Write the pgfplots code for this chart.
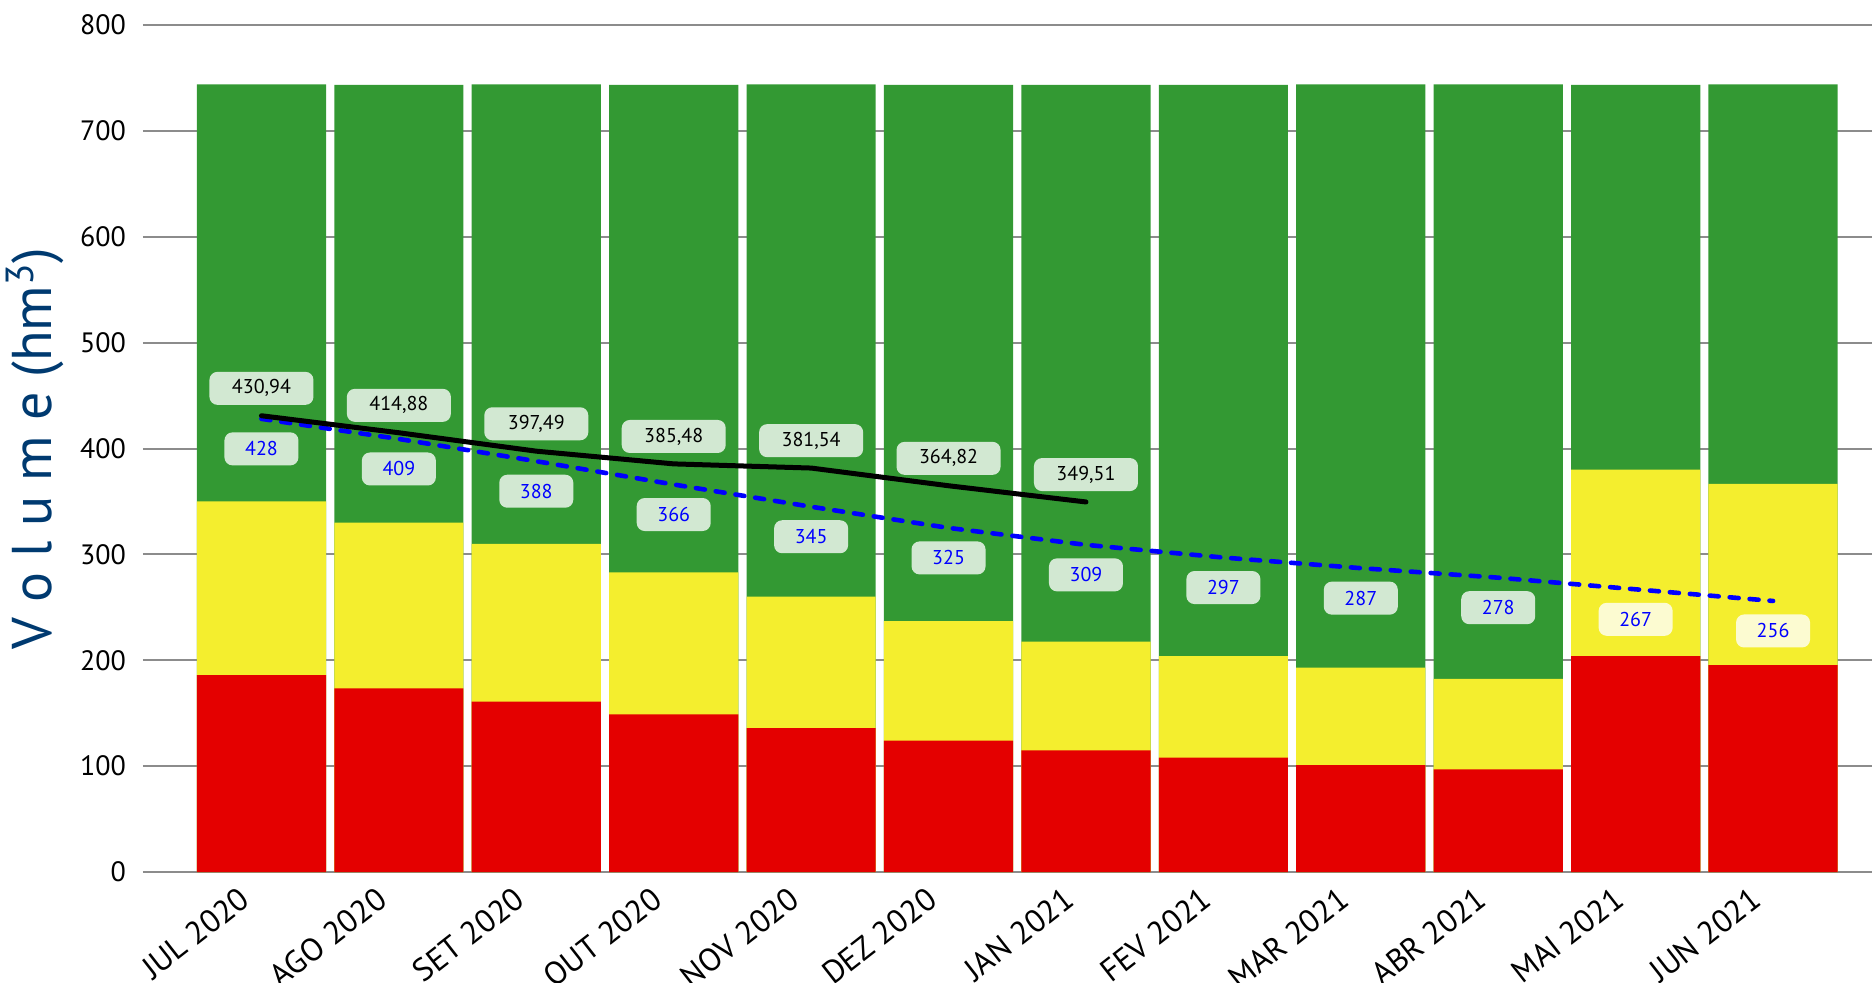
\documentclass[border=0pt]{standalone}
\usepackage{pgfplots}
\pgfplotsset{compat=1.18}
\usepackage{pgfplotstable}
\usepackage{fontspec}
\setmainfont{PT Sans}
\definecolor{cgreen}{RGB}{51,153,51}
\definecolor{cyellow}{RGB}{244,238,46}
\definecolor{cred}{RGB}{228,0,0}
\definecolor{cdblue}{RGB}{0,58,112}
\definecolor{cgrid}{RGB}{140,140,140}

% red = top of red segment, yel = top of yellow segment, tot = top of green segment
\pgfplotstableread{
x red yel tot
0 186 350 744
1 173.5 330 743.5
2 161 310 744
3 149 283 743.5
4 136 260 744
5 124 237 743.5
6 115 217.5 743.5
7 108 204 743.5
8 101 193 744
9 97 182.5 744
10 204 380 743.5
11 195.5 366.5 744
}\bars

\pgfplotstableread{
x y lab
0 430.94 430,94
1 414.88 414,88
2 397.49 397,49
3 385.48 385,48
4 381.54 381,54
5 364.82 364,82
6 349.51 349,51
}\real

\pgfplotstableread{
x y lab
0 428 428
1 409 409
2 388 388
3 366 366
4 345 345
5 325 325
6 309 309
7 297 297
8 287 287
9 278 278
10 267 267
11 256 256
}\proj

\begin{document}
\begin{tikzpicture}
\useasboundingbox (-71.5pt,-55pt) rectangle (864.5pt,436pt);
\begin{axis}[
  scale only axis,
  width=864.5pt, height=423.5pt,
  xmin=-0.862, xmax=11.72,
  ymin=0, ymax=800,
  ytick={0,100,...,800},
  xtick={0,...,11},
  xticklabels={JUL 2020,AGO 2020,SET 2020,OUT 2020,NOV 2020,DEZ 2020,JAN 2021,FEV 2021,MAR 2021,ABR 2021,MAI 2021,JUN 2021},
  axis line style={draw=none},
  major tick length=0pt,
  ymajorgrids,
  grid style={cgrid, line width=1pt},
  /pgf/number format/assume math mode=true,
  yticklabel style={font=\fontsize{14}{16}\selectfont, text=black, xshift=-5pt},
  xticklabel style={font=\fontsize{16}{18}\selectfont, rotate=38, anchor=north east, xshift=-10pt, yshift=5.5pt},
  ylabel={V o l u m e (hm\textsuperscript{3})},
  ylabel style={at={(axis description cs:0,0.5)}, anchor=center, yshift=54pt, font=\fontsize{28}{32}\selectfont, text=cdblue},
  clip=false,
]
\addplot[ybar, bar width=0.94, bar shift=0pt, fill=cgreen, draw=none] table[x=x, y=tot] {\bars};
\addplot[ybar, bar width=0.94, bar shift=0pt, fill=cyellow, draw=none] table[x=x, y=yel] {\bars};
\addplot[ybar, bar width=0.94, bar shift=0pt, fill=cred, draw=none] table[x=x, y=red] {\bars};

\addplot[blue, line width=2.3pt, dash pattern=on 4.5pt off 5.5pt, line cap=round, mark=none,
  point meta=explicit symbolic, nodes near coords,
  every node near coord/.append style={anchor=center, yshift=-15pt, fill=white, fill opacity=0.78, text opacity=1, rounded corners=4pt, minimum width=37pt, minimum height=16.5pt, inner sep=2pt, font=\fontsize{10}{12}\selectfont, text=blue}
] table[x=x, y=y, meta=lab] {\proj};

\addplot[black, line width=2.5pt, line cap=round, mark=none,
  point meta=explicit symbolic, nodes near coords,
  every node near coord/.append style={anchor=center, yshift=13.7pt, fill=white, fill opacity=0.78, text opacity=1, rounded corners=4pt, minimum width=52pt, minimum height=16.5pt, inner sep=2pt, font=\fontsize{10}{12}\selectfont, text=black}
] table[x=x, y=y, meta=lab] {\real};
\end{axis}
\end{tikzpicture}
\end{document}
